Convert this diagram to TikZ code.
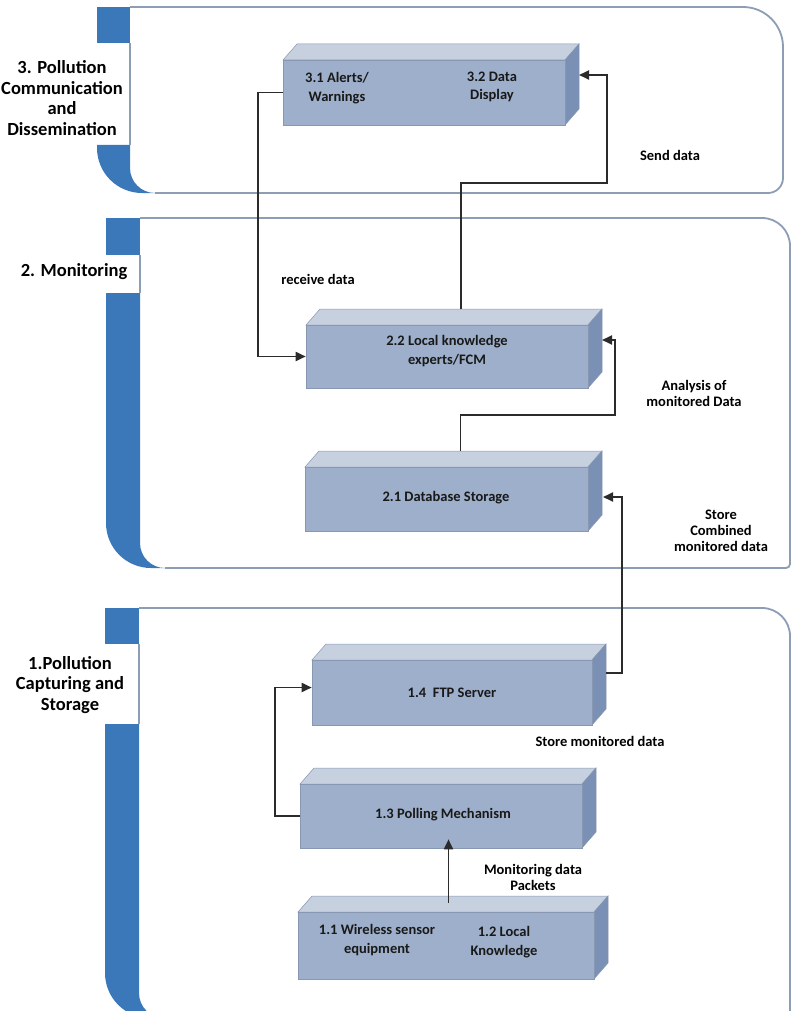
\documentclass[tikz,border=0pt]{standalone}
\usepackage{fontspec}
\setmainfont{Carlito}
\usetikzlibrary{arrows.meta,calc}
\definecolor{laneblue}{HTML}{3B78B9}
\definecolor{framec}{HTML}{8D9DB4}
\definecolor{frontc}{HTML}{9DAFCA}
\definecolor{topc}{HTML}{C6D0DF}
\definecolor{sidec}{HTML}{7A90B4}
\definecolor{edgec}{HTML}{8898B2}
\definecolor{linec}{HTML}{2B2B2B}
\tikzset{
 frame/.style={draw=framec, line width=1.8pt},
 frontbox/.style={fill=frontc, draw=edgec, line width=0.6pt, inner sep=0pt},
 boxtxt/.style={font=\bfseries\fontsize{14.5}{18.5}\selectfont, align=center, inner sep=0pt, text=black!90},
 conn/.style={draw=linec, line width=1.8pt},
 arr/.style={conn, -{Triangle[length=10pt,width=9pt]}},
 lbl/.style={font=\bfseries\fontsize{14.5}{16}\selectfont, align=center, inner sep=0pt},
 lanelbl/.style={font=\bfseries\fontsize{18.5}{20.5}\selectfont, align=center, inner sep=0pt},
}
% L W T G1 G2 B R rt rb
\newcommand\lanebox[9]{%
 \fill[laneblue] (#1,#3) rectangle (#1+#2,#4);
 \fill[laneblue] (#1,#5) -- (#1,#6-45) arc[start angle=180,end angle=90,radius=45] -- (#1+#2+25,#6) arc[start angle=90,end angle=180,radius=25] -- (#1+#2,#5) -- cycle;
 \draw[frame] (#1+#2,#4) -- (#1+#2,#5);
 \draw[frame] (#1+#2,#3) -- (#7-#8,#3) arc[start angle=-90,end angle=0,radius=#8] -- (#7,#6-#9) arc[start angle=0,end angle=90,radius=#9] -- (#1+#2+25,#6);
}
% name x1 y1 x2 y2
\newcommand\cuboid[5]{%
 \filldraw[fill=topc, draw=edgec, line width=0.5pt] (#2,#3) -- (#2+14,#3-16) -- (#4+14,#3-16) -- (#4,#3) -- cycle;
 \filldraw[fill=sidec, draw=edgec, line width=0.5pt] (#4,#3) -- (#4+14,#3-16) -- (#4+14,#5-16) -- (#4,#5) -- cycle;
 \node[frontbox, minimum width={(#4-#2)*1pt}, minimum height={(#5-#3)*1pt}] (#1) at ({(#2+#4)/2},{(#3+#5)/2}) {};
 \coordinate (#1-top) at ({(#2+#4)/2+14},{#3-16});
}
\begin{document}
\begin{tikzpicture}[x=1pt,y=-1pt]
\useasboundingbox[fill=white] (0,0) rectangle (791,1011);
% lanes
\lanebox{97}{33}{7}{43}{145}{193}{783}{40}{15}
\lanebox{106}{34}{218}{255}{293}{568}{790}{28}{4}
\lanebox{105}{34}{608}{644}{724}{1018}{790}{28}{4}
\node[lanelbl] (lane3) at (62,98) {3. Pollution\\Communication\\and\\Dissemination};
\node[lanelbl] (lane2) at (74,272) {2. Monitoring};
\node[lanelbl] (lane1) at (70,685) {1.Pollution\\Capturing and\\Storage};
% boxes
\cuboid{B3}{283}{60}{565}{125}
\cuboid{B22}{306}{325}{588}{388}
\cuboid{B21}{305}{467}{588}{531}
\cuboid{B14}{312}{660}{592}{725}
\cuboid{B13}{300}{784}{582}{848}
\cuboid{B11}{298}{912}{594}{979}
\node[boxtxt] (t31) at (337,88) {3.1 Alerts/\\Warnings};
\node[boxtxt] (t32) at (492,87) {3.2 Data\\Display};
\node[boxtxt] (t22) at (447,351) {2.2 Local knowledge\\experts/FCM};
\node[boxtxt] (t21) at (446,498) {2.1 Database Storage};
\node[boxtxt] (t14) at (452,693) {1.4\ \ FTP Server};
\node[boxtxt] (t13) at (443,815) {1.3 Polling Mechanism};
\node[boxtxt] (t11) at (377,940) {1.1 Wireless sensor\\equipment};
\node[boxtxt] (t12) at (504,942) {1.2 Local\\Knowledge};
% connector end points on side faces
\coordinate (B3-in) at (579,75);
\coordinate (B22-in) at (602,340);
\coordinate (B21-in) at (603,497);
\coordinate (B14-out) at (606,673);
% connectors
\draw[arr] (B3.west) -- ++(-25,0) |- (B22.west);
\draw[arr] (B22-top) |- (607,183) |- (B3-in);
\draw[arr] (B21-top) |- (615,415) |- (B22-in);
\draw[arr] (B14-out) -| (622,497) -- (B21-in);
\draw[arr] (B13.west) -- ++(-25,0) |- ([yshift=5pt]B14.west);
\draw[arr] ([xshift=2.5pt,yshift=9pt]B11.north) -- ([xshift=2.5pt,yshift=9pt]B11.north |- B13.south);
% labels
\node[lbl] (l1) at (670,155) {Send data};
\node[lbl] (l2) at (318,279) {receive data};
\node[lbl] (l3) at (694,393) {Analysis of\\monitored Data};
\node[lbl] (l4) at (721,531) {Store\\Combined\\monitored data};
\node[lbl] (l5) at (600,741) {Store monitored data};
\node[lbl] (l6) at (533,877) {Monitoring data\\Packets};
\end{tikzpicture}
\end{document}
